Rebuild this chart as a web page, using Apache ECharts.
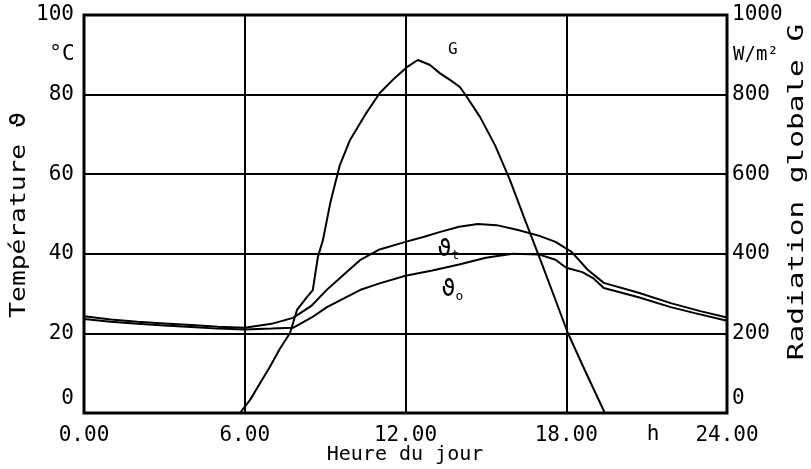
<!DOCTYPE html>
<html>
<head>
<meta charset="utf-8">
<script src="https://cdn.jsdelivr.net/npm/echarts@6/dist/echarts.min.js"></script>
<style>
html,body{margin:0;padding:0;background:#fff;}
#chart{width:811px;height:469px;}
</style>
</head>
<body>
<div id="chart"></div>
<script>
// Global radiation G (W/m²) over the day
const gHours  = [5.82, 6.2, 6.57, 6.94, 7.3, 7.69, 7.95, 8.32, 8.54, 8.73, 8.92, 9.2, 9.55, 9.93, 10.49, 11.04, 11.6, 12.05, 12.46, 12.9, 13.28, 13.7, 14.03, 14.29, 14.78, 15.34, 15.9, 16.46, 17.01, 17.57, 18.06, 18.69, 19.44];
const gValues = [0, 33, 75, 116, 160, 201, 259, 291, 309, 392, 435, 530, 623, 686, 749, 804, 842, 869, 887, 875, 854, 835, 819, 794, 744, 673, 585, 485, 389, 289, 201, 108, 0];

// Temperature ϑt (upper curve), °C
const tHoursT = [0, 1, 2, 3, 4, 5, 6, 7, 7.8, 8.5, 9.07, 9.7, 10.3, 11, 12, 12.7, 13.3, 14, 14.7, 15.4, 16.2, 17, 17.6, 18.2, 18.8, 19.4, 20.7, 21.9, 23, 24];
const thetaT  = [24.3, 23.5, 22.9, 22.5, 22.1, 21.7, 21.4, 22.4, 23.9, 27.0, 31.0, 34.8, 38.4, 41.0, 43.0, 44.3, 45.5, 46.8, 47.5, 47.2, 46.0, 44.5, 43.0, 40.5, 36.0, 32.7, 30.2, 27.6, 25.6, 24.0];

// Temperature ϑo (lower curve), °C
const tHoursO = [0, 1, 2, 3, 4, 5, 6, 7, 7.8, 8.5, 9.07, 9.7, 10.3, 11, 12, 13, 14, 15, 16, 17, 17.6, 18, 18.6, 19, 19.4, 20.7, 21.9, 22.8, 24];
const thetaO  = [23.6, 22.9, 22.4, 22.0, 21.6, 21.2, 21.0, 21.2, 21.4, 24.0, 26.6, 28.8, 30.9, 32.5, 34.5, 35.8, 37.3, 39.0, 40.0, 39.8, 38.5, 36.5, 35.4, 33.9, 31.4, 29.1, 26.6, 25.1, 23.2];

// Tick values
const xTicks = [0, 6, 12, 18, 24];
const tempTicks = [0, 20, 40, 60, 80, 100];
const radTicks = [0, 200, 400, 600, 800, 1000];

const FONT = 'DejaVu Sans Mono';
const INK = '#000';

const pairs = (xs, ys) => xs.map((x, i) => [x, ys[i]]);

const chart = echarts.init(document.getElementById('chart'), null, {renderer: 'canvas'});

const labelZeroShift = {
  z: {fontFamily: FONT, fontSize: 21, color: INK, padding: [0, 0, 28, 0]}
};

chart.setOption({
  animation: false,
  backgroundColor: '#fff',
  grid: {left: 84, right: 84, top: 15, bottom: 56, show: true, borderColor: INK, borderWidth: 3, backgroundColor: 'transparent'},
  xAxis: {
    type: 'value', min: xTicks[0], max: xTicks[xTicks.length - 1], interval: 6,
    axisLine: {show: false}, axisTick: {show: false},
    splitLine: {show: true, lineStyle: {color: INK, width: 2}},
    axisLabel: {fontFamily: FONT, fontSize: 21, color: INK, margin: 12, formatter: v => v.toFixed(2)}
  },
  yAxis: [{
    type: 'value', min: tempTicks[0], max: tempTicks[tempTicks.length - 1], interval: 20,
    axisLine: {show: false}, axisTick: {show: false},
    splitLine: {show: true, lineStyle: {color: INK, width: 2}},
    axisLabel: {fontFamily: FONT, fontSize: 21, color: INK, margin: 10,
      formatter: v => v === 0 ? '{z|0}' : String(v), rich: labelZeroShift}
  }, {
    type: 'value', min: radTicks[0], max: radTicks[radTicks.length - 1], interval: 200,
    position: 'right',
    axisLine: {show: false}, axisTick: {show: false}, splitLine: {show: false},
    axisLabel: {fontFamily: FONT, fontSize: 21, color: INK, margin: 5,
      formatter: v => v === 0 ? '{z|0}' : String(v), rich: labelZeroShift}
  }],
  series: [{
    name: 'G', type: 'line', yAxisIndex: 1, showSymbol: false, silent: true,
    lineStyle: {color: INK, width: 2}, data: pairs(gHours, gValues)
  }, {
    name: 'ϑt', type: 'line', yAxisIndex: 0, showSymbol: false, silent: true,
    lineStyle: {color: INK, width: 2}, data: pairs(tHoursT, thetaT)
  }, {
    name: 'ϑo', type: 'line', yAxisIndex: 0, showSymbol: false, silent: true,
    lineStyle: {color: INK, width: 2}, data: pairs(tHoursO, thetaO)
  }]
});

// Curve labels placed in data space
const at = (x, y, axis) => chart.convertToPixel({xAxisIndex: 0, yAxisIndex: axis}, [x, y]);
const pG = at(13.77, 912, 1);
const pT = at(13.6, 41.0, 0);
const pO = at(13.75, 30.8, 0);

const txt = (x, y, text, extra) => Object.assign({
  type: 'text', x: x, y: y,
  style: Object.assign({text: text, fontFamily: FONT, fontSize: 21, fill: INK, align: 'center', verticalAlign: 'middle'}, extra || {})
});

const thetaRich = {
  a: {fontFamily: FONT, fontSize: 23, fill: INK},
  b: {fontFamily: FONT, fontSize: 13, fill: INK, padding: [12, 0, 0, 0]}
};

chart.setOption({
  graphic: [
    txt(pG[0], pG[1], 'G', {fontSize: 16}),
    txt(pT[0], pT[1], '{a|ϑ}{b|t}', {rich: thetaRich}),
    txt(pO[0], pO[1], '{a|ϑ}{b|o}', {rich: thetaRich}),
    txt(62, 55, '°C', {align: 'center'}),
    txt(733, 55, 'W/m²', {align: 'left', fontSize: 19}),
    txt(653, 435, 'h', {}),
    txt(405, 455, 'Heure du jour', {fontSize: 20}),
    Object.assign(txt(20, 215, 'Température ϑ', {fontSize: 21}), {rotation: Math.PI / 2, scaleX: 1.25}),
    Object.assign(txt(798, 192, 'Radiation globale G', {fontSize: 21}), {rotation: Math.PI / 2, scaleX: 1.4})
  ]
});
</script>
</body>
</html>
